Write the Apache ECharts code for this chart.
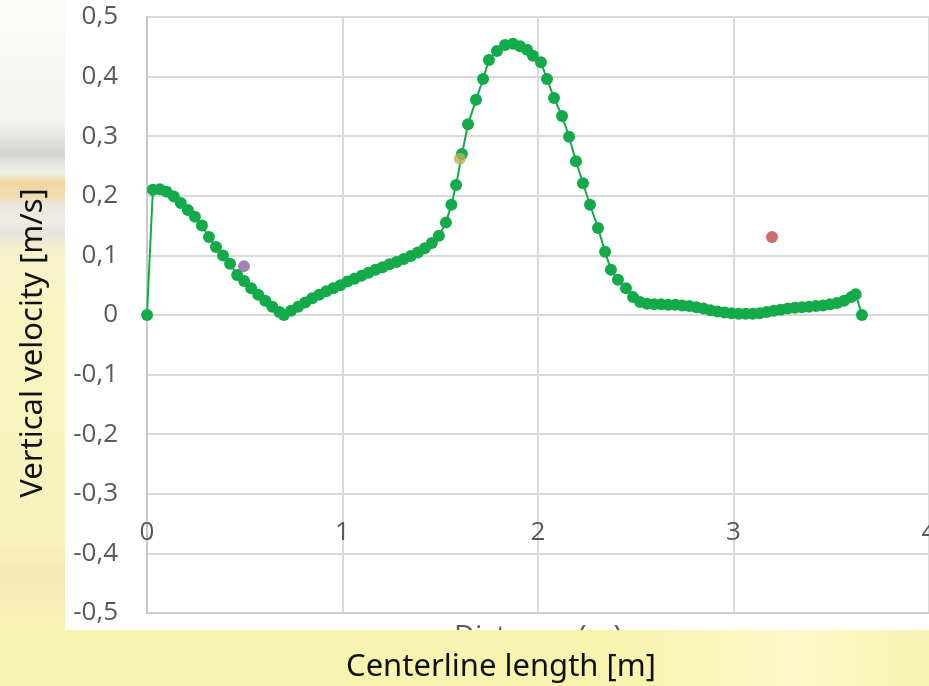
<!DOCTYPE html>
<html><head><meta charset="utf-8">
<script src="https://cdn.jsdelivr.net/npm/echarts@6/dist/echarts.min.js"></script>
<style>html,body{margin:0;padding:0;background:#f8f4b4;}#c{width:929px;height:686px;}</style>
</head><body><div id="c"></div>
<script>
// ---- data ----
const xTickLabels = ['0', '1', '2', '3', '4'];
const yTickLabels = ['-0,5', '-0,4', '-0,3', '-0,2', '-0,1', '0', '0,1', '0,2', '0,3', '0,4', '0,5'];

const distance = [
  0, 0.03, 0.066, 0.10, 0.137, 0.173, 0.209, 0.245, 0.281, 0.317, 0.353, 0.389, 0.425, 0.461,
  0.497, 0.533, 0.569, 0.605, 0.641, 0.677, 0.70,
  0.737, 0.773, 0.809, 0.845, 0.881, 0.917, 0.953, 0.989, 1.025, 1.061, 1.097, 1.133, 1.169,
  1.205, 1.241, 1.277, 1.313, 1.349, 1.385, 1.421, 1.457, 1.493, 1.529, 1.557,
  1.581, 1.611, 1.642, 1.683, 1.719, 1.749, 1.790, 1.831, 1.872, 1.908, 1.944, 1.974, 2.015,
  2.046, 2.082, 2.123, 2.159, 2.194, 2.230, 2.266, 2.307, 2.343, 2.373, 2.409, 2.450, 2.486,
  2.522, 2.558, 2.594, 2.630, 2.666, 2.702, 2.738, 2.774, 2.810, 2.846, 2.882, 2.918, 2.954,
  2.990, 3.026, 3.062, 3.098, 3.134, 3.170, 3.206, 3.242, 3.278, 3.314, 3.350, 3.386, 3.422,
  3.458, 3.494, 3.530, 3.566, 3.602, 3.625, 3.657
];
const velocity = [
  0, 0.210, 0.211, 0.207, 0.199, 0.188, 0.176, 0.165, 0.150, 0.131, 0.114, 0.100, 0.086, 0.067,
  0.057, 0.045, 0.034, 0.024, 0.014, 0.005, 0.000,
  0.007, 0.014, 0.021, 0.028, 0.034, 0.040, 0.045, 0.050, 0.056, 0.061, 0.066, 0.071, 0.076,
  0.080, 0.085, 0.089, 0.094, 0.099, 0.105, 0.112, 0.121, 0.133, 0.155, 0.185,
  0.218, 0.270, 0.320, 0.361, 0.396, 0.428, 0.443, 0.453, 0.455, 0.451, 0.445, 0.435, 0.424,
  0.396, 0.364, 0.334, 0.299, 0.258, 0.221, 0.185, 0.146, 0.106, 0.076, 0.059, 0.045, 0.030,
  0.022, 0.019, 0.018, 0.018, 0.017, 0.017, 0.016, 0.015, 0.013, 0.011, 0.008, 0.006, 0.004,
  0.003, 0.002, 0.002, 0.002, 0.003, 0.005, 0.007, 0.009, 0.011, 0.012, 0.013, 0.014, 0.015,
  0.016, 0.018, 0.020, 0.024, 0.030, 0.035, 0.000
];
const pointA = [[0.496, 0.082]];
const pointB = [[1.600, 0.262]];
const pointC = [[3.197, 0.131]];

// ---- chart ----
const chart = echarts.init(document.getElementById('c'), null, {renderer: 'canvas'});
const mainData = distance.map((d, i) => [d, velocity[i]]);
const tickFont = '"Open Sans", "Noto Sans", sans-serif';
const titleFont = '"Noto Sans", "Open Sans", sans-serif';

chart.setOption({
  animation: false,
  backgroundColor: 'transparent',
  graphic: [
    {type: 'rect', z: -20, silent: true, shape: {x: 0, y: 0, width: 929, height: 686},
     style: {fill: new echarts.graphic.LinearGradient(0, 0, 1, 0, [
       {offset: 0, color: '#f7f1b2'}, {offset: 0.6, color: '#f8f4b0'},
       {offset: 0.8, color: '#fbf7c6'}, {offset: 1, color: '#f8f3b2'}])}},
    {type: 'rect', z: -19, silent: true, shape: {x: 0, y: 0, width: 66, height: 630},
     style: {fill: new echarts.graphic.LinearGradient(0, 0, 0, 1, [
       {offset: 0, color: '#fcfcfb'}, {offset: 0.19, color: '#f3f3f2'},
       {offset: 0.22, color: '#e2e2e0'}, {offset: 0.245, color: '#d2d2d0'},
       {offset: 0.26, color: '#e6e6e4'}, {offset: 0.275, color: '#f2efe6'},
       {offset: 0.29, color: '#f0d6a0'}, {offset: 0.31, color: '#f2dcae'},
       {offset: 0.325, color: '#e8e6de'}, {offset: 0.35, color: '#eeece4'},
       {offset: 0.37, color: '#e6e4dc'}, {offset: 0.40, color: '#f6f3cc'},
       {offset: 0.5, color: '#f8f5c2'}, {offset: 0.86, color: '#f8f3bc'},
       {offset: 0.9, color: '#f6eab4'}, {offset: 0.95, color: '#f7ecb6'}, {offset: 1, color: '#f8f3b4'}])}},
    {type: 'rect', z: -18, silent: true, shape: {x: 65, y: 0, width: 864, height: 630},
     style: {fill: '#ffffff'}},
    {type: 'text', z: -17, silent: true, x: 538, y: 623,
     style: {text: 'Distance (m)', font: '29px ' + tickFont, fill: '#595959', align: 'center', verticalAlign: 'top'}},
    {type: 'rect', z: -16, silent: true, shape: {x: 65, y: 630, width: 864, height: 56},
     style: {fill: new echarts.graphic.LinearGradient(0, 0, 1, 0, [
       {offset: 0, color: '#f7f2b0'}, {offset: 0.65, color: '#f8f4b0'},
       {offset: 0.85, color: '#fbf8c8'}, {offset: 1, color: '#f8f3b2'}])}},
    {type: 'text', silent: true, x: 33, y: 343, rotation: Math.PI / 2,
     style: {text: 'Vertical velocity [m/s]', font: '31px ' + titleFont, fill: '#111111', align: 'center', verticalAlign: 'middle'}},
    {type: 'text', silent: true, x: 501, y: 667,
     style: {text: 'Centerline length [m]', font: '31px ' + titleFont, fill: '#111111', align: 'center', verticalAlign: 'middle'}}
  ],
  grid: {left: 147, right: 0, top: 17, bottom: 73, containLabel: false, outerBoundsMode: 'none'},
  xAxis: {
    type: 'value', min: 0, max: 4, interval: 1,
    axisLine: {show: true, onZero: false, lineStyle: {color: '#cdcdcd', width: 2}},
    axisTick: {show: false},
    splitLine: {show: true, lineStyle: {color: '#dadada', width: 2}},
    axisLabel: {margin: -93, color: '#595959', fontFamily: tickFont, fontSize: 26,
      showMaxLabel: true, showMinLabel: true, hideOverlap: false,
      formatter: v => xTickLabels[Math.round(v)]}
  },
  yAxis: {
    type: 'value', min: -0.5, max: 0.5, interval: 0.1,
    axisLine: {show: true, onZero: false, lineStyle: {color: '#c8c8c8', width: 2}},
    axisTick: {show: false},
    splitLine: {show: true, lineStyle: {color: '#dadada', width: 2}},
    axisLabel: {margin: 29, color: '#595959', fontFamily: tickFont, fontSize: 26,
      formatter: v => yTickLabels[Math.round((v + 0.5) * 10)]}
  },
  series: [
    {type: 'line', data: mainData, symbol: 'circle', symbolSize: 12, showAllSymbol: true,
     lineStyle: {color: '#13ab4a', width: 2}, itemStyle: {color: '#13ab4a'}, z: 3},
    {type: 'scatter', data: pointA, symbol: 'circle', symbolSize: 12, itemStyle: {color: '#8a64a6'}, z: 4},
    {type: 'scatter', data: pointB, symbol: 'circle', symbolSize: 12, itemStyle: {color: '#b9b356'}, z: 4},
    {type: 'scatter', data: pointC, symbol: 'circle', symbolSize: 12, itemStyle: {color: '#c0494a'}, z: 4}
  ]
});
</script>
</body></html>
